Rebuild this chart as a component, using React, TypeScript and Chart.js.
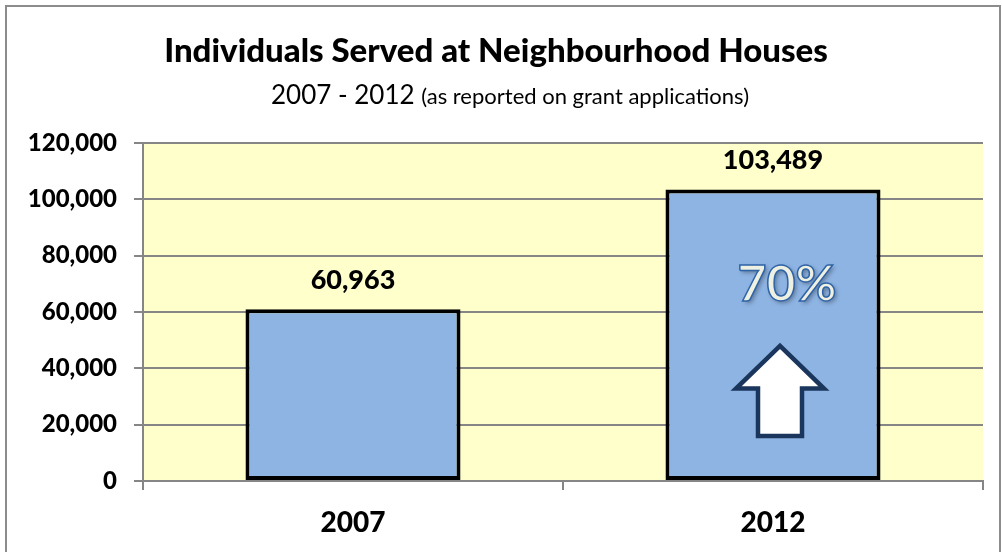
import React, { useEffect, useRef } from "react";
import { Chart, registerables } from "chart.js";

Chart.register(...registerables);

const categories = ["2007", "2012"];
const values = [60963, 103489];
const yTicks = [0, 20000, 40000, 60000, 80000, 100000, 120000];
const titleText = "Individuals Served at Neighbourhood Houses";
const subtitleMain = "2007 - 2012";
const subtitleNote = "(as reported on grant applications)";
const growthLabel = "70%";

const FONT = "Lato, 'Open Sans', sans-serif";

const decorPlugin = {
  id: "decor",
  beforeDraw(chart: any) {
    const { ctx, chartArea } = chart;
    ctx.save();
    ctx.fillStyle = "#ffffff";
    ctx.fillRect(0, 0, chart.width, chart.height);
    ctx.strokeStyle = "#8c8c8c";
    ctx.lineWidth = 2;
    ctx.strokeRect(6, 6, chart.width - 8, chart.height + 10);
    ctx.fillStyle = "#FFFFCC";
    ctx.fillRect(chartArea.left, chartArea.top, chartArea.right - chartArea.left, chartArea.bottom - chartArea.top);
    ctx.fillStyle = "#000";
    ctx.textAlign = "center";
    ctx.textBaseline = "middle";
    ctx.font = `900 33px ${FONT}`;
    ctx.fillText(titleText, 496, 51);
    ctx.font = `26px ${FONT}`;
    const w1 = ctx.measureText(subtitleMain + " ").width;
    ctx.font = `22px ${FONT}`;
    const w2 = ctx.measureText(subtitleNote).width;
    const start = 510 - (w1 + w2) / 2;
    ctx.textAlign = "left";
    ctx.font = `26px ${FONT}`;
    ctx.fillText(subtitleMain + " ", start, 96);
    ctx.font = `22px ${FONT}`;
    ctx.fillText(subtitleNote, start + w1, 97);
    ctx.restore();
  },
  afterDatasetsDraw(chart: any) {
    const { ctx } = chart;
    const meta = chart.getDatasetMeta(0);
    const y = chart.scales.y;
    ctx.save();
    ctx.fillStyle = "#000";
    ctx.textAlign = "center";
    ctx.textBaseline = "middle";
    ctx.font = `900 27px ${FONT}`;
    meta.data.forEach((bar: any, i: number) => {
      ctx.fillText(values[i].toLocaleString("en-US"), bar.x, bar.y - 29);
    });
    const last = meta.data[meta.data.length - 1];
    const cx = last.x;
    ctx.font = `bold 50px ${FONT}`;
    ctx.shadowColor = "rgba(0,0,0,0.35)";
    ctx.shadowOffsetX = 2;
    ctx.shadowOffsetY = 2;
    ctx.shadowBlur = 4;
    ctx.fillStyle = "#EEF0E2";
    ctx.fillText(growthLabel, cx + 14, y.getPixelForValue(69800));
    ctx.shadowColor = "transparent";
    ctx.lineWidth = 1.5;
    ctx.strokeStyle = "#2F63A8";
    ctx.strokeText(growthLabel, cx + 14, y.getPixelForValue(69800));
    const ax = cx + 7;
    const tipY = y.getPixelForValue(48000);
    const headY = y.getPixelForValue(32800);
    const baseY = y.getPixelForValue(16000);
    const headHalf = 44;
    const shaftHalf = 22;
    ctx.beginPath();
    ctx.moveTo(ax, tipY);
    ctx.lineTo(ax + headHalf, headY);
    ctx.lineTo(ax + shaftHalf, headY);
    ctx.lineTo(ax + shaftHalf, baseY);
    ctx.lineTo(ax - shaftHalf, baseY);
    ctx.lineTo(ax - shaftHalf, headY);
    ctx.lineTo(ax - headHalf, headY);
    ctx.closePath();
    ctx.fillStyle = "#ffffff";
    ctx.fill();
    ctx.lineWidth = 4.5;
    ctx.lineJoin = "miter";
    ctx.strokeStyle = "#1B365D";
    ctx.stroke();
    ctx.restore();
  },
};

export default function App() {
  const ref = useRef<HTMLCanvasElement>(null);
  useEffect(() => {
    document.body.style.margin = "0";
    const chart = new Chart(ref.current!, {
      type: "bar",
      data: {
        labels: categories,
        datasets: [
          {
            data: values,
            backgroundColor: "#8EB4E3",
            borderColor: "#000000",
            borderWidth: 4,
            borderSkipped: false,
            categoryPercentage: 1,
            barPercentage: 0.512,
          },
        ],
      },
      options: {
        animation: false,
        responsive: false,
        devicePixelRatio: 1,
        layout: { padding: { left: 0, top: 143, right: 19, bottom: 0 } },
        plugins: { legend: { display: false }, tooltip: { enabled: false }, title: { display: false } },
        scales: {
          x: {
            offset: true,
            grid: {
              offset: true,
              drawOnChartArea: false,
              tickLength: 9,
              color: "#868686",
              lineWidth: 2,
            },
            border: { display: true, color: "#868686", width: 2 },
            ticks: {
              color: "#000",
              font: { family: FONT, size: 28, weight: "900" },
              padding: 16,
            },
            afterFit(scale: any) {
              scale.height = 71;
            },
          },
          y: {
            min: 0,
            max: 120000,
            afterBuildTicks(scale: any) {
              scale.ticks = yTicks.map((v) => ({ value: v }));
            },
            grid: { color: "#868686", lineWidth: 2, tickLength: 9 },
            border: { display: true, color: "#868686", width: 2 },
            ticks: {
              color: "#000",
              padding: 17,
              font: { family: FONT, size: 24, weight: "900" },
              callback: (v: any) => Number(v).toLocaleString("en-US"),
            },
            afterFit(scale: any) {
              scale.width = 143;
            },
          },
        },
      },
      plugins: [decorPlugin],
    });
    return () => chart.destroy();
  }, []);
  return (
    <div style={{ width: 1002, height: 552 }}>
      <canvas ref={ref} width={1002} height={552} style={{ display: "block" }} />
    </div>
  );
}
